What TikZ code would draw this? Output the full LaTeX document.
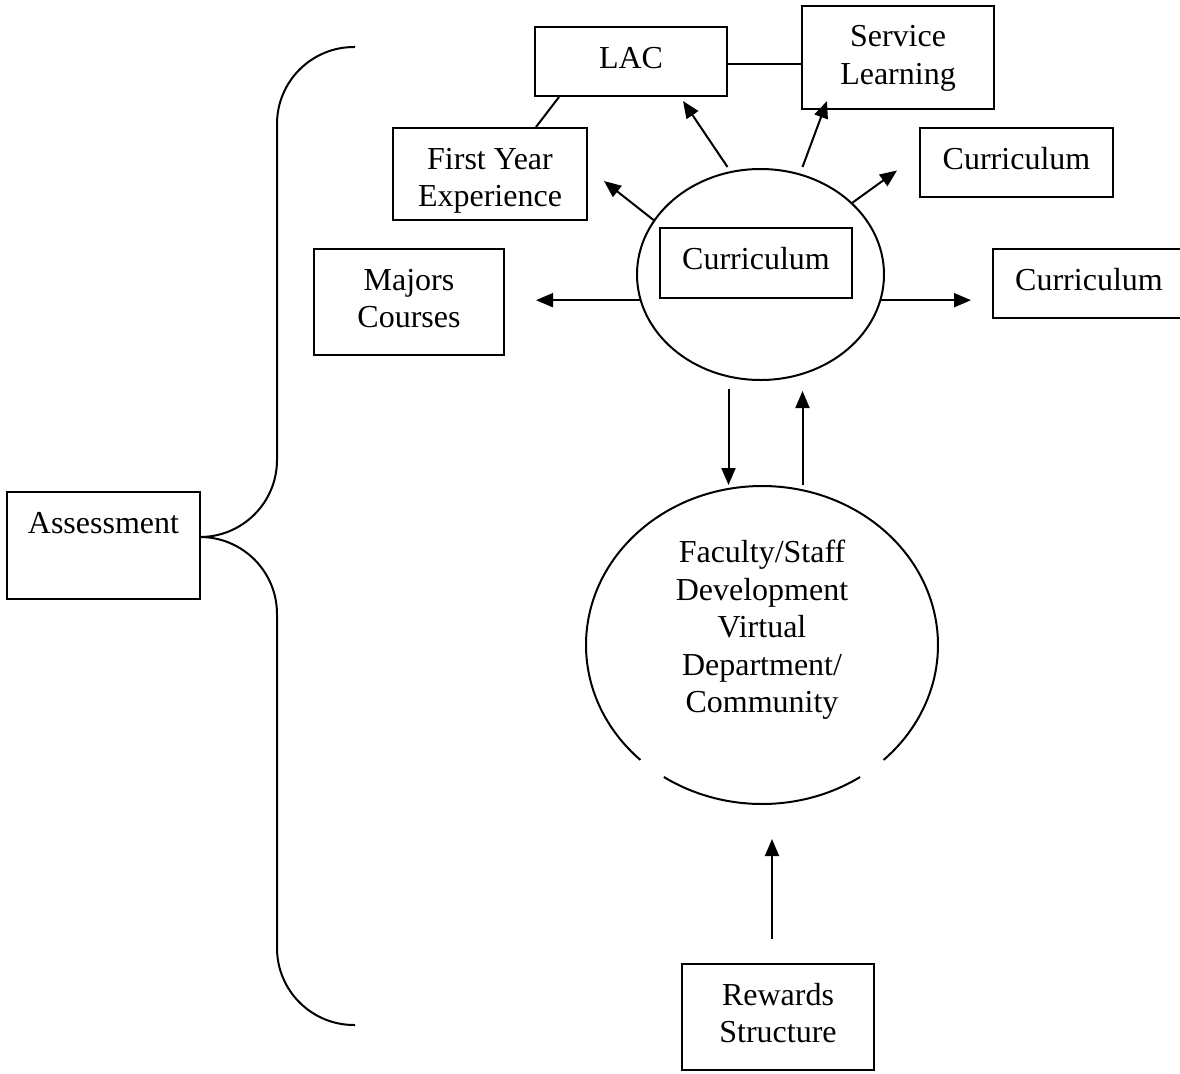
\documentclass[tikz,border=0pt]{standalone}
\usepackage{fontspec}
\setmainfont{Liberation Serif}
\usetikzlibrary{arrows.meta,shapes.geometric,calc}
\newcommand\boxtext[3]{\parbox[c][#2pt][t]{#1pt}{\centering\rule{0pt}{41pt}#3}}
\begin{document}
\begin{tikzpicture}[x=1pt,y=-1pt,line width=2pt,
  every node/.style={font=\fontsize{32pt}{37.5pt}\selectfont},
  box/.style={draw,rectangle,inner sep=0pt,line width=2pt},
  oval/.style={ellipse,inner sep=0pt},
  arr/.style={-{Triangle[length=17pt,width=14pt]}}]
\useasboundingbox (0,0) rectangle (1180,1073);

% boxes
\node[box] (svc)  at (898,57.5)   {\boxtext{192}{103}{Service\\Learning}};
\node[box] (lac)  at (631,61.5)   {\boxtext{192}{69}{LAC}};
\node[box] (fy)   at (490,174)    {\boxtext{194}{92}{First Year\\Experience}};
\node[box] (maj)  at (409,302)    {\boxtext{190}{106}{Majors\\Courses}};
\node[box] (asm)  at (103.5,545.5){\boxtext{193}{107}{Assessment}};
\node[box] (rew)  at (778,1017)   {\boxtext{192}{106}{Rewards\\Structure}};
\node[box] (cur2) at (1016.5,162.5){\boxtext{193}{69}{Curriculum}};
\node[box] (cur3) at (1089,283.5) {\boxtext{192}{69}{Curriculum}};

% small ellipse with inner box
\node[oval,draw,minimum width=247pt,minimum height=211pt] (cur) at (760.5,274.5) {};
\node[box] (cin) at (756,263) {\boxtext{192}{70}{Curriculum}};

% big ellipse (drawn with two small gaps)
\node[oval,minimum width=352pt,minimum height=318pt,
  label={[yshift=15pt,align=center]center:Faculty/Staff\\Development\\Virtual\\Department/\\Community}] (fac) at (762,645) {};
\draw ($(fac.center)+(226.3:176pt and 159pt)$) arc[start angle=226.3,end angle=-46.3,x radius=176pt,y radius=159pt];
\draw ($(fac.center)+(-56.1:176pt and 159pt)$) arc[start angle=-56.1,end angle=-123.9,x radius=176pt,y radius=159pt];

% plain lines
\coordinate (l1) at ($(lac.east)+(0,2.5)$);
\draw (l1) -- (l1 -| svc.west);
\draw ($(lac.south west)+(25,0)$) -- ($(fy.north west)+(144,0)$);

% arrows out of the small ellipse
\draw[arr] ($(cur.north)+(-33,-1)$) -- ($(lac.south)+(52,4)$);
\draw[arr] ($(cur.north)+(42,-1)$) -- ($(svc.south west)+(26,-9)$);
\draw[arr] (cur.153) -- ($(fy.east)+(16,7)$);
\draw[arr] (cur.38) -- ($(cur2.west)+(-22,8)$);
\draw[arr,shorten >=31pt] (cur.192) -- (cur.192 -| maj.east);
\draw[arr,shorten >=21pt] (cur.-12) -- (cur.-12 -| cur3.west);

% vertical arrows
\coordinate (d1) at ($(cur.south)+(-32,8)$);
\draw[arr] (d1) -- (d1 |- fac.north);
\coordinate (u1) at ($(cur.south)+(42,10)$);
\draw[arr] (u1 |- fac.north) -- (u1);
\coordinate (r1) at ($(rew.north)+(-6,-24)$);
\draw[arr,shorten >=34pt] (r1) -- (r1 |- fac.south);

% bracket
\coordinate (tip) at ($(asm.east)+(0,-8.5)$);
\coordinate (btop) at (355,47);
\coordinate (bbot) at (355,1025);
\draw[rounded corners=77pt] (btop) -- (277,47) -- (277,537) -- (tip);
\draw[rounded corners=77pt] (tip) -- (277,537) -- (277,1025) -- (bbot);
\end{tikzpicture}
\end{document}
